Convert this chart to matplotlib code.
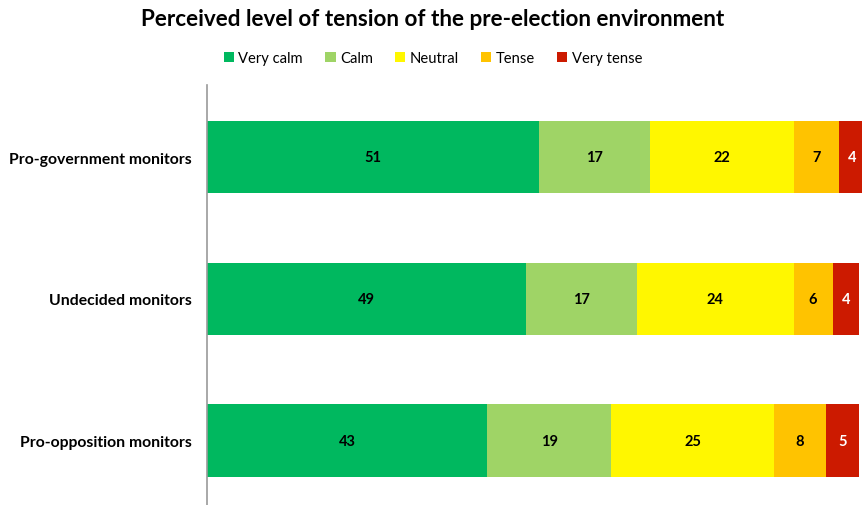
import matplotlib
matplotlib.use("Agg")
import matplotlib.pyplot as plt
from matplotlib.patches import Patch

plt.rcParams["font.family"] = ["Lato", "DejaVu Sans"]

groups = ["Pro-opposition monitors", "Undecided monitors", "Pro-government monitors"]
levels = ["Very calm", "Calm", "Neutral", "Tense", "Very tense"]
very_calm = [43, 49, 51]
calm = [19, 17, 17]
neutral = [25, 24, 22]
tense = [8, 6, 7]
very_tense = [5, 4, 4]

colours = ["#00B85F", "#9FD466", "#FFF700", "#FFC300", "#CC1A00"]
text_colours = ["black", "black", "black", "black", "white"]

fig = plt.figure(figsize=(8.66, 5.06), dpi=100)
ax = fig.add_axes([207 / 866, 0, 655 / 866, 420 / 506])

series = [very_calm, calm, neutral, tense, very_tense]
left = [0, 0, 0]
for vals, col, tcol in zip(series, colours, text_colours):
    bars = ax.barh(range(len(groups)), vals, left=left, height=0.51, color=col, edgecolor="none")
    for b, v in zip(bars, vals):
        ax.text(b.get_x() + b.get_width() / 2, b.get_y() + b.get_height() / 2, str(v),
                ha="center", va="center", fontsize=10.5, fontweight="bold", color=tcol)
    left = [l + v for l, v in zip(left, vals)]

ax.set_xlim(0, 100.5)
ax.set_ylim(-0.455, 2.51)
ax.set_yticks(range(len(groups)))
ax.set_yticklabels(groups, fontsize=11.3, fontweight="bold")
ax.tick_params(axis="y", length=0, pad=11)
ax.set_xticks([])
for side in ["top", "right", "bottom"]:
    ax.spines[side].set_visible(False)
ax.spines["left"].set_color("#9a9a9a")
ax.spines["left"].set_linewidth(1.2)

fig.text(0.5, 1 - 19 / 506, "Perceived level of tension of the pre-election environment",
         ha="center", va="center", fontsize=16.2, fontweight="bold")

handles = [Patch(facecolor=c, edgecolor="none", label=l) for c, l in zip(colours, levels)]
fig.legend(handles=handles, loc="center", bbox_to_anchor=(0.5, 1 - 59 / 506), ncol=5,
           frameon=False, fontsize=10.6, handlelength=0.7, handleheight=0.7,
           handletextpad=0.3, columnspacing=1.5)

fig.savefig("out.png", dpi=100)
